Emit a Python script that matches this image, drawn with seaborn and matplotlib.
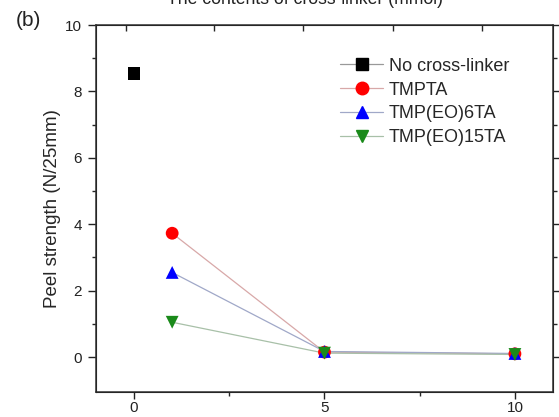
import matplotlib
matplotlib.use("Agg")
import matplotlib.pyplot as plt
from matplotlib.lines import Line2D
import seaborn as sns
import pandas as pd

sns.set_style("ticks")
plt.rcParams['font.family'] = ['Liberation Sans', 'DejaVu Sans']

series_names = ["No cross-linker", "TMPTA", "TMP(EO)6TA", "TMP(EO)15TA"]
x_none = [0]
y_none = [8.55]
x_tmpta = [1, 5, 10]
y_tmpta = [3.73, 0.15, 0.10]
x_eo6 = [1, 5, 10]
y_eo6 = [2.55, 0.17, 0.11]
x_eo15 = [1, 5, 10]
y_eo15 = [1.05, 0.12, 0.08]

colors = ["#000000", "#ff0000", "#0000ff", "#1a8a1a"]
line_colors = ["#999999", "#d8a8a8", "#a0a8c8", "#a8c0a8"]
markers = ["s", "o", "^", "v"]

xs = [x_none, x_tmpta, x_eo6, x_eo15]
ys = [y_none, y_tmpta, y_eo6, y_eo15]
frames = []
for name, x, y in zip(series_names, xs, ys):
    frames.append(pd.DataFrame({"x": x, "y": y, "series": name}))
df = pd.concat(frames, ignore_index=True)

fig = plt.figure(figsize=(5.59, 4.17), dpi=100)
ax = fig.add_axes([96/559, 1-392/417, (553-96)/559, (392-25)/417])

sns.lineplot(data=df, x="x", y="y", hue="series", hue_order=series_names,
             palette=dict(zip(series_names, line_colors)), linewidth=0.9,
             legend=False, ax=ax, sort=False)
sns.scatterplot(data=df, x="x", y="y", hue="series", style="series",
                hue_order=series_names, style_order=series_names,
                palette=dict(zip(series_names, colors)),
                markers=dict(zip(series_names, markers)),
                s=85, linewidth=0, legend=False, ax=ax, zorder=5)

ax.set_xlim(-1, 11)
ax.set_ylim(-1.05, 10)
ax.set_xticks([0, 5, 10])
ax.set_xticks([2.5, 7.5], minor=True)
ax.set_yticks([0, 2, 4, 6, 8, 10])
ax.set_yticks([1, 3, 5, 7, 9], minor=True)
ax.tick_params(axis='both', which='major', direction='out', length=6, width=1,
               labelsize=11, colors='#222222', pad=4)
ax.tick_params(axis='x', which='major', length=5, pad=1.5)
ax.tick_params(axis='both', which='minor', direction='out', length=3, width=1)
ax.tick_params(axis='y', which='both', right=True, labelright=False)
for s in ax.spines.values():
    s.set_linewidth(1.1)
    s.set_color('#333333')
ax.set_xlabel("")
ax.set_ylabel("Peel strength (N/25mm)", fontsize=13.5, labelpad=3)

top = ax.twiny()
top.set_xlim(ax.get_xlim())
top.set_xticks([-0.22, 2.11, 4.44, 6.80, 9.13])
top.set_xticklabels([])
top.tick_params(axis='x', direction='in', length=4, width=1)

handles = [Line2D([0], [0], color=lc, lw=0.9, marker=m, markerfacecolor=c,
                  markeredgecolor=c, markersize=9)
           for lc, c, m in zip(line_colors, colors, markers)]
ax.legend(handles, series_names, loc='upper left', bbox_to_anchor=(0.534, 0.911),
          frameon=False, fontsize=13, handlelength=2.4, labelspacing=0.38,
          handletextpad=0.3, borderaxespad=0, borderpad=0)

fig.text(305/559, 1-8/417, "The contents of cross-linker (mmol)", ha='center',
         va='bottom', fontsize=12.7, color='#222222')
fig.text(28/559, 1-20/417, "(b)", ha='center', va='center', fontsize=15,
         color='#222222')

fig.savefig("out.png", dpi=100, facecolor='white')
